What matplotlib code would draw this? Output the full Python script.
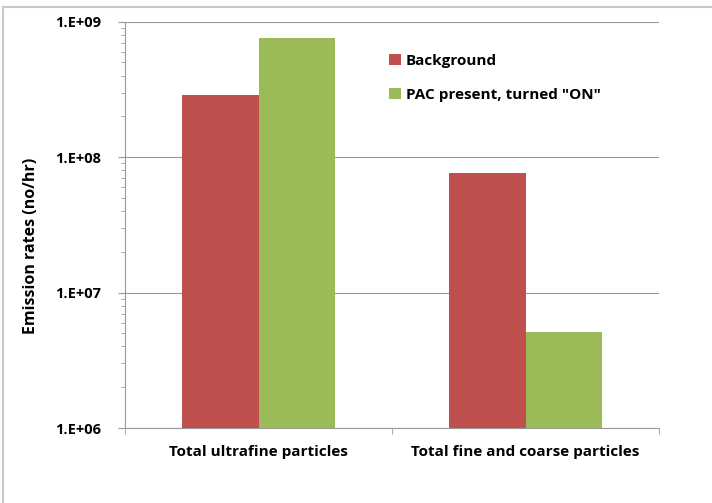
import numpy as np
import matplotlib.pyplot as plt
from matplotlib.ticker import FixedLocator, LogLocator, FuncFormatter, NullFormatter
from matplotlib.lines import Line2D

categories = ['Total ultrafine particles', 'Total fine and coarse particles']
series_names = ['Background', 'PAC present, turned "ON"']
background = [2.9e8, 7.6e7]
pac_on = [7.6e8, 5.1e6]
colors = ['#C0504D', '#9BBB59']

plt.rcParams['font.family'] = ['Open Sans', 'DejaVu Sans']
plt.rcParams['font.weight'] = 'bold'

fig = plt.figure(figsize=(7.12, 5.03), dpi=100)
ax = fig.add_axes([125/712, 1 - 428/503, (659 - 125)/712, (428 - 21.7)/503])

x = np.arange(len(categories))
w = 0.288
ax.bar(x - w/2, background, w, color=colors[0], label=series_names[0], zorder=3)
ax.bar(x + w/2, pac_on, w, color=colors[1], label=series_names[1], zorder=3)

ax.set_yscale('log')
ax.set_ylim(1e6, 1e9)
ax.set_xlim(-0.5, 1.5)
ax.yaxis.set_major_locator(FixedLocator([1e6, 1e7, 1e8, 1e9]))
ax.yaxis.set_minor_locator(LogLocator(base=10, subs=np.arange(2, 10)))
ax.yaxis.set_minor_formatter(NullFormatter())
ax.yaxis.set_major_formatter(FuncFormatter(lambda v, p: '1.E+%02d' % round(np.log10(v))))
ax.grid(axis='y', which='major', color='#999999', linewidth=0.8, zorder=0)

ax.set_xticks(x)
ax.set_xticklabels(categories, fontweight='bold')
ax.set_xticks([-0.5, 0.5, 1.5], minor=True)
ax.tick_params(axis='x', which='major', length=0, pad=12, labelsize=11)
ax.tick_params(axis='x', which='minor', length=4, color='#999999', direction='out')
ax.tick_params(axis='y', which='major', length=5, color='#999999', pad=12, labelsize=10.5)
ax.tick_params(axis='y', which='minor', length=3, color='#999999')
for lab in ax.get_yticklabels():
    lab.set_fontweight('bold')

for s in ['top', 'right']:
    ax.spines[s].set_visible(False)
for s in ['left', 'bottom']:
    ax.spines[s].set_color('#999999')
    ax.spines[s].set_linewidth(0.8)

fig.text(31/712, 1 - 246/503, 'Emission rates (no/hr)', rotation=90, ha='center', va='center',
         fontsize=11.5, fontweight='bold')

fig.legend(loc='upper left', bbox_to_anchor=(375/712, 1 - 40/503), frameon=False,
           prop={'size': 11, 'weight': 'bold'}, handlelength=0.8, handleheight=0.8,
           handletextpad=0.3, labelspacing=1.3)

# outer chart border
fig.add_artist(Line2D([3/712, 1], [1 - 7/503, 1 - 7/503], color='#C8C8C8', linewidth=1.5))
fig.add_artist(Line2D([3/712, 3/712], [0, 1 - 7/503], color='#C8C8C8', linewidth=1.5))

fig.savefig('out.png', dpi=100)
